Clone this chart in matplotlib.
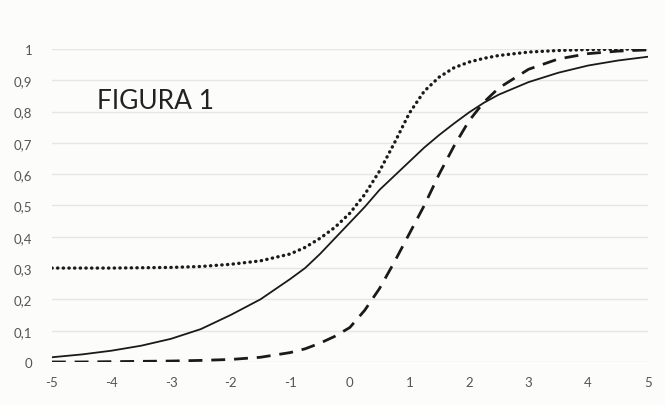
import matplotlib
matplotlib.use("Agg")
import matplotlib.pyplot as plt

# valores
theta = [-5, -4.5, -4, -3.5, -3, -2.5, -2, -1.5, -1, -0.75, -0.5, -0.25, 0, 0.25, 0.5,
         0.75, 1, 1.25, 1.5, 1.75, 2, 2.25, 2.5, 3, 3.5, 4, 4.5, 5]
solida = [0.015, 0.024, 0.036, 0.052, 0.074, 0.105, 0.15, 0.20, 0.265, 0.30, 0.345, 0.395,
          0.445, 0.495, 0.55, 0.595, 0.64, 0.685, 0.725, 0.762, 0.797, 0.828, 0.854, 0.894,
          0.924, 0.947, 0.963, 0.975]
punteada = [0.30, 0.30, 0.30, 0.301, 0.302, 0.305, 0.312, 0.323, 0.345, 0.366, 0.395, 0.43,
            0.475, 0.535, 0.61, 0.70, 0.795, 0.865, 0.91, 0.94, 0.958, 0.97, 0.979, 0.99,
            0.995, 0.998, 0.999, 1.0]
discontinua = [0.0, 0.0, 0.001, 0.002, 0.003, 0.005, 0.008, 0.015, 0.03, 0.042, 0.06,
               0.082, 0.11, 0.165, 0.235, 0.32, 0.41, 0.50, 0.60, 0.69, 0.77, 0.83,
               0.875, 0.935, 0.968, 0.985, 0.993, 0.997]

xticks = [-5, -4, -3, -2, -1, 0, 1, 2, 3, 4, 5]
yticks = [0, 0.1, 0.2, 0.3, 0.4, 0.5, 0.6, 0.7, 0.8, 0.9, 1]

plt.rcParams['font.family'] = ['Lato', 'DejaVu Sans']

fig = plt.figure(figsize=(6.65, 4.06), dpi=100, facecolor='#fcfcfa')
ax = fig.add_axes([0.078, 0.106, 0.896, 0.771])
ax.set_facecolor('#fcfcfa')

ax.plot(theta, solida, color='#1a1a1a', lw=1.3, solid_capstyle='round')
ax.plot(theta, punteada, color='#1a1a1a', lw=2.4, linestyle=(0, (0.1, 1.6)),
        dash_capstyle='round')
ax.plot(theta, discontinua, color='#1a1a1a', lw=2.0, linestyle=(0, (5, 3.2)))

ax.set_xlim(-5, 5)
ax.set_ylim(0, 1)
ax.set_xticks(xticks)
ax.set_yticks(yticks)
ax.set_xticklabels([str(t) for t in xticks])
ax.set_yticklabels([('%g' % t).replace('.', ',') for t in yticks])
ax.tick_params(length=0, labelsize=9.5, colors='#555555')
ax.tick_params(axis='x', pad=10)
ax.tick_params(axis='y', pad=14)
ax.grid(axis='y', color='#e6e6e4', lw=1)
ax.set_axisbelow(True)
for s in ax.spines.values():
    s.set_visible(False)

ax.text(0.0755, 0.834, 'FIGURA 1', transform=ax.transAxes, fontsize=19,
        color='#222222', va='center', ha='left')

fig.savefig('out.png', dpi=100, facecolor=fig.get_facecolor())
